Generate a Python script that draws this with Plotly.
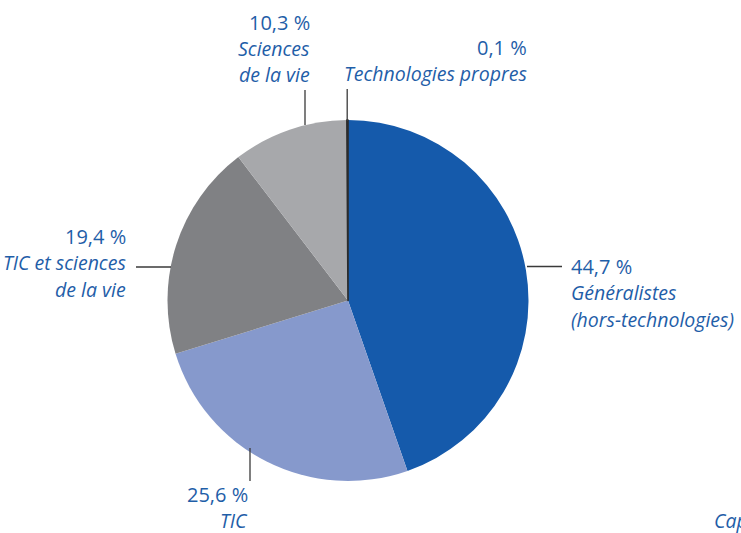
import plotly.graph_objects as go

# Répartition des fonds par secteur
secteurs = ["Généralistes (hors-technologies)", "TIC", "TIC et sciences de la vie",
            "Sciences de la vie", "Technologies propres"]
parts = [44.7, 25.6, 19.4, 10.3, 0.1]
couleurs = ["#155aab", "#8699cc", "#808184", "#a7a8ab", "#2b2b2b"]

W, H = 741, 533
BLEU = "#1f5ea8"
TRAIT = "#3a3a3a"
POLICE = "Open Sans"


def px(x):
    return x / W


def py(y):
    return 1 - y / H


fig = go.Figure(go.Pie(
    labels=secteurs,
    values=parts,
    sort=False,
    direction="clockwise",
    rotation=0,
    marker=dict(colors=couleurs,
                line=dict(color=["#ffffff"] * 4 + ["#2b2b2b"], width=[0, 0, 0, 0, 1.6])),
    textinfo="none",
    hoverinfo="label+percent",
    domain=dict(x=[px(348 - 180.5), px(348 + 180.5)], y=[py(481), py(120)]),
    showlegend=False,
))

# Étiquettes : (pourcentage, lignes de libellé, x, ancrage, y de la première ligne, interligne)
etiquettes = [
    ("10,3 %", ["Sciences", "de la vie"], 312, "right", 22, 26.5),
    ("0,1 %", ["Technologies propres"], 529, "right", 47, 26.5),
    ("19,4 %", ["TIC et sciences", "de la vie"], 128, "right", 236, 26.5),
    ("44,7 %", ["Généralistes", "(hors-technologies)"], 569, "left", 266, 26.5),
    ("25,6 %", ["TIC"], 250, "right", 494, 26),
]

annotations = []
for pct, lignes, x, ancre, y0, interligne in etiquettes:
    annotations.append(dict(x=px(x), y=py(y0), xref="paper", yref="paper", text=pct,
                            showarrow=False, xanchor=ancre, yanchor="middle",
                            font=dict(family=POLICE, size=20, color=BLEU)))
    for i, ligne in enumerate(lignes):
        annotations.append(dict(x=px(x), y=py(y0 + interligne * (i + 1)), xref="paper", yref="paper",
                                text=f"<i>{ligne}</i>", showarrow=False, xanchor=ancre,
                                yanchor="middle",
                                font=dict(family=POLICE, size=19.5, color=BLEU)))

annotations.append(dict(x=px(712), y=py(520), xref="paper", yref="paper", text="<i>Capital</i>",
                        showarrow=False, xanchor="left", yanchor="middle",
                        font=dict(family=POLICE, size=19.5, color=BLEU)))

# Traits de rappel
traits = [
    (305, 90, 305, 125),
    (347.2, 89, 347.2, 121),
    (136, 267, 171, 267),
    (527, 266.5, 562, 266.5),
    (250, 448, 250, 481),
]
shapes = [dict(type="line", xref="paper", yref="paper",
               x0=px(a), y0=py(b), x1=px(c), y1=py(d),
               line=dict(color=TRAIT, width=1.3)) for a, b, c, d in traits]

fig.update_layout(
    width=W, height=H,
    margin=dict(l=0, r=0, t=0, b=0),
    paper_bgcolor="white",
    plot_bgcolor="white",
    annotations=annotations,
    shapes=shapes,
)

fig.write_html("out.html")
